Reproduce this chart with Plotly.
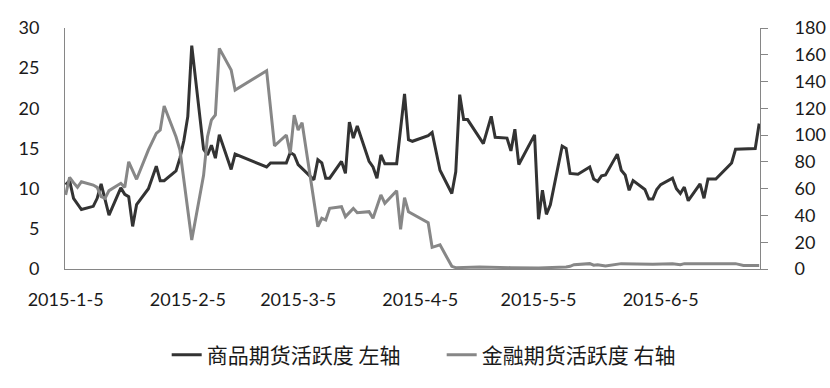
import plotly.graph_objects as go

# 商品期货活跃度 (left axis)
commodity_dates = [
    "2015-01-05","2015-01-06","2015-01-07","2015-01-09","2015-01-12","2015-01-13","2015-01-14","2015-01-15","2015-01-16",
    "2015-01-19","2015-01-20","2015-01-21","2015-01-22","2015-01-23","2015-01-26","2015-01-28","2015-01-29","2015-01-30",
    "2015-02-02","2015-02-03","2015-02-04","2015-02-05","2015-02-06","2015-02-09","2015-02-10","2015-02-11","2015-02-12",
    "2015-02-13","2015-02-16","2015-02-17","2015-02-25","2015-02-26",
    "2015-03-02","2015-03-03","2015-03-04","2015-03-05","2015-03-06","2015-03-09","2015-03-10","2015-03-11","2015-03-12",
    "2015-03-13","2015-03-16","2015-03-17","2015-03-18","2015-03-19","2015-03-20","2015-03-23","2015-03-24","2015-03-25",
    "2015-03-26","2015-03-27","2015-03-30",
    "2015-04-01","2015-04-02","2015-04-03","2015-04-07","2015-04-08","2015-04-10","2015-04-13","2015-04-14","2015-04-15",
    "2015-04-16","2015-04-17","2015-04-21","2015-04-23","2015-04-24","2015-04-27","2015-04-28","2015-04-29","2015-04-30",
    "2015-05-04","2015-05-05","2015-05-06","2015-05-07","2015-05-08","2015-05-11","2015-05-12","2015-05-13","2015-05-15",
    "2015-05-18","2015-05-19","2015-05-20","2015-05-21","2015-05-22","2015-05-25","2015-05-26","2015-05-27","2015-05-28",
    "2015-05-29",
    "2015-06-01","2015-06-02","2015-06-03","2015-06-04","2015-06-05","2015-06-08","2015-06-09","2015-06-10","2015-06-11",
    "2015-06-12","2015-06-15","2015-06-16","2015-06-17","2015-06-19","2015-06-23","2015-06-24","2015-06-29","2015-06-30",
]
commodity_values = [
    10.5, 11.0, 8.8, 7.4, 7.8, 8.8, 10.6, 8.6, 6.7,
    10.1, 9.3, 9.0, 5.3, 8.0, 10.0, 12.8, 11.0, 11.0,
    12.2, 13.8, 16.0, 19.0, 27.8, 14.9, 14.2, 15.4, 13.8,
    16.7, 12.4, 14.3, 12.7, 13.2,
    13.2, 14.5, 14.2, 13.0, 12.5, 11.1, 13.6, 13.2, 11.3,
    11.3, 13.4, 11.9, 18.3, 16.3, 17.8, 13.4, 12.7, 11.3,
    14.2, 13.1, 13.1,
    21.8, 16.1, 15.9, 16.6, 17.0, 12.3, 9.4, 12.1, 21.7,
    18.6, 18.6, 15.6, 19.0, 16.4, 16.3, 14.7, 17.4, 13.0,
    16.7, 6.2, 9.8, 6.8, 8.0, 15.3, 15.0, 11.9, 11.8,
    12.7, 11.2, 10.9, 11.6, 11.7, 14.3, 12.3, 11.7, 9.8,
    11.0,
    9.9, 8.7, 8.7, 9.9, 10.5, 11.3, 10.0, 9.4, 10.2,
    8.5, 10.6, 8.8, 11.2, 11.2, 13.2, 14.9, 15.0, 18.1,
]

# 金融期货活跃度 (right axis)
financial_dates = [
    "2015-01-05","2015-01-06","2015-01-07","2015-01-08","2015-01-09","2015-01-12","2015-01-13","2015-01-14","2015-01-15",
    "2015-01-16","2015-01-19","2015-01-20","2015-01-21","2015-01-23","2015-01-26","2015-01-28","2015-01-29","2015-01-30",
    "2015-02-02","2015-02-03","2015-02-06","2015-02-09","2015-02-10","2015-02-11","2015-02-12","2015-02-13","2015-02-16",
    "2015-02-17","2015-02-25","2015-02-27",
    "2015-03-02","2015-03-03","2015-03-04","2015-03-05","2015-03-06","2015-03-10","2015-03-11","2015-03-12","2015-03-13",
    "2015-03-16","2015-03-17","2015-03-19","2015-03-20","2015-03-23","2015-03-24","2015-03-26","2015-03-27","2015-03-30",
    "2015-03-31",
    "2015-04-01","2015-04-02","2015-04-07","2015-04-08","2015-04-10","2015-04-13","2015-04-14","2015-04-20","2015-04-22",
    "2015-04-24","2015-04-28",
    "2015-05-05","2015-05-11","2015-05-12","2015-05-13","2015-05-14","2015-05-18","2015-05-19","2015-05-20","2015-05-22",
    "2015-05-26",
    "2015-06-03","2015-06-08","2015-06-10","2015-06-11","2015-06-24","2015-06-26","2015-06-30",
]
financial_values = [
    55.3, 68.5, 64.5, 61.0, 65.2, 62.7, 61.0, 54.0, 52.8,
    58.5, 64.0, 61.0, 80.1, 67.0, 88.9, 101.3, 103.8, 121.7,
    98.8, 88.9, 21.7, 70.0, 98.8, 111.3, 115.0, 164.8, 148.6,
    133.7, 148.1, 91.9,
    100.1, 86.4, 115.0, 103.8, 109.3, 31.6, 37.9, 36.6, 45.3,
    46.5, 39.1, 45.3, 42.0, 42.8, 37.9, 55.3, 49.1, 58.5,
    29.6,
    53.2, 42.8, 34.6, 16.2, 18.0, 2.0, 1.0, 1.5, 1.5,
    1.2, 1.0,
    0.8, 1.0, 1.5, 2.0, 3.2, 4.0, 2.8, 3.2, 2.2,
    4.0,
    3.5, 4.0, 3.2, 4.0, 4.0, 2.7, 2.7,
]

tick_dates = ["2015-01-05", "2015-02-05", "2015-03-05", "2015-04-05", "2015-05-05", "2015-06-05"]
tick_labels = ["2015-1-5", "2015-2-5", "2015-3-5", "2015-4-5", "2015-5-5", "2015-6-5"]
left_ticks = [0, 5, 10, 15, 20, 25, 30]
right_ticks = [0, 20, 40, 60, 80, 100, 120, 140, 160, 180]

series_names = ["商品期货活跃度 左轴", "金融期货活跃度 右轴"]

AXIS = "#868686"
LABEL_FONT = dict(family="Lato, 'Noto Sans', sans-serif", size=18, color="#1a1a1a")

fig = go.Figure()
fig.add_trace(go.Scatter(
    x=commodity_dates, y=commodity_values, name=series_names[0], mode="lines",
    line=dict(color="#333333", width=3),
))
fig.add_trace(go.Scatter(
    x=financial_dates, y=financial_values, name=series_names[1], mode="lines", yaxis="y2",
    line=dict(color="#878787", width=3),
))

fig.update_layout(
    width=830, height=388,
    margin=dict(l=65, r=70, t=28, b=119),
    paper_bgcolor="white", plot_bgcolor="white",
    showlegend=True,
    legend=dict(
        orientation="h", x=0.542, xanchor="center", y=-0.357, yanchor="middle",
        font=dict(family="'Noto Sans CJK SC', sans-serif", size=21, color="#1a1a1a"),
        entrywidth=230, entrywidthmode="pixels",
        bgcolor="rgba(0,0,0,0)",
    ),
    xaxis=dict(
        type="date",
        range=["2015-01-04 20:00", "2015-06-30 05:00"],
        tickvals=tick_dates, ticktext=tick_labels,
        showline=True, linecolor=AXIS, linewidth=1,
        ticks="", showgrid=False, zeroline=False,
        ticklabelstandoff=14, automargin=False,
        tickfont=LABEL_FONT,
    ),
    yaxis=dict(
        range=[0, 30], tickvals=left_ticks,
        showline=True, linecolor=AXIS, linewidth=1,
        ticks="", showgrid=False, zeroline=False,
        ticklabelstandoff=21, automargin=False,
        tickfont=LABEL_FONT,
    ),
    yaxis2=dict(
        range=[0, 180], tickvals=right_ticks,
        overlaying="y", side="right",
        showline=True, linecolor=AXIS, linewidth=1,
        ticks="outside", ticklen=7, tickcolor=AXIS, tickwidth=1,
        showgrid=False, zeroline=False,
        ticklabelstandoff=23, automargin=False,
        tickfont=LABEL_FONT,
    ),
)

fig.write_html(
    "out.html",
    config={"displayModeBar": False},
    post_script="document.body.style.margin='0px';",
)
